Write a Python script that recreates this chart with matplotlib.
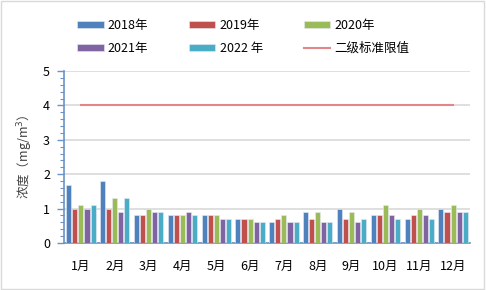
import matplotlib
matplotlib.use('Agg')
import matplotlib.pyplot as plt
import numpy as np
from matplotlib.ticker import MultipleLocator

plt.rcParams['font.family'] = ['Noto Sans CJK SC', 'DejaVu Sans']

months = ['1月', '2月', '3月', '4月', '5月', '6月', '7月', '8月', '9月', '10月', '11月', '12月']
years = ['2018年', '2019年', '2020年', '2021年', '2022 年']
v2018 = [1.7, 1.8, 0.8, 0.8, 0.8, 0.7, 0.6, 0.9, 1.0, 0.8, 0.7, 1.0]
v2019 = [1.0, 1.0, 0.8, 0.8, 0.8, 0.7, 0.7, 0.7, 0.7, 0.8, 0.8, 0.9]
v2020 = [1.1, 1.3, 1.0, 0.8, 0.8, 0.7, 0.8, 0.9, 0.9, 1.1, 1.0, 1.1]
v2021 = [1.0, 0.9, 0.9, 0.9, 0.7, 0.6, 0.6, 0.6, 0.6, 0.8, 0.8, 0.9]
v2022 = [1.1, 1.3, 0.9, 0.8, 0.7, 0.6, 0.6, 0.6, 0.7, 0.7, 0.7, 0.9]
limit = 4
limit_label = '二级标准限值'
colors = ['#4F81BD', '#C0504D', '#9BBB59', '#8064A2', '#4BACC6']

fig = plt.figure(figsize=(4.86, 2.9), dpi=100)
ax = fig.add_axes([64/486, 1-243/290, 406/486, 172/290])

x = np.arange(len(months))
w = 0.15
handles = []
for i, vals in enumerate([v2018, v2019, v2020, v2021, v2022]):
    b = ax.bar(x + (i-2)*w*1.2, vals, width=w, color=colors[i], edgecolor='#E8ECF4', linewidth=0.4,
               label=years[i], zorder=3)
    handles.append(b)
ln, = ax.plot(x, [limit]*len(x), color='#E3868A', lw=1.5, label=limit_label, zorder=4)

ax.set_xlim(-0.5, len(months)-0.5)
ax.set_ylim(0, 5)
ax.set_xticks(x)
ax.set_xticklabels(months, fontsize=9)
ax.yaxis.set_major_locator(MultipleLocator(1))
ax.yaxis.set_minor_locator(MultipleLocator(0.2))
ax.tick_params(axis='x', length=0, pad=12)
ax.tick_params(axis='y', which='both', direction='out', color='#6A93C8', labelsize=9, pad=5)
ax.tick_params(axis='y', which='major', length=5, width=1)
ax.tick_params(axis='y', which='minor', length=3, width=0.8)
ax.grid(axis='y', color='#D9D9D9', lw=1.2, zorder=0)
for s in ['top', 'right']:
    ax.spines[s].set_visible(False)
ax.spines['left'].set_color('#6A93C8')
ax.spines['bottom'].set_color('#6A93C8')
ax.spines['left'].set_linewidth(1.2)
ax.spines['bottom'].set_linewidth(1.2)
ax.set_ylabel('浓度（mg/m$^3$）', fontsize=9, color='#404040', labelpad=6)

# legend is filled column by column, so reorder to read row by row
leg_h = [handles[0], handles[3], handles[1], handles[4], handles[2], ln]
leg_l = [years[0], years[3], years[1], years[4], years[2], limit_label]
fig.legend(handles=leg_h, labels=leg_l, ncol=3, loc='upper left',
           bbox_to_anchor=(66/486, 1-8/290), frameon=False, fontsize=9,
           handlelength=2.1, handleheight=0.5, columnspacing=3.25, handletextpad=0.35,
           labelspacing=0.75)

fig.patches.append(plt.Rectangle((0.002, 0.003), 0.994, 0.994, transform=fig.transFigure,
                                 fill=False, edgecolor='#D9D9D9', lw=1))
fig.savefig('out.png', dpi=100)
